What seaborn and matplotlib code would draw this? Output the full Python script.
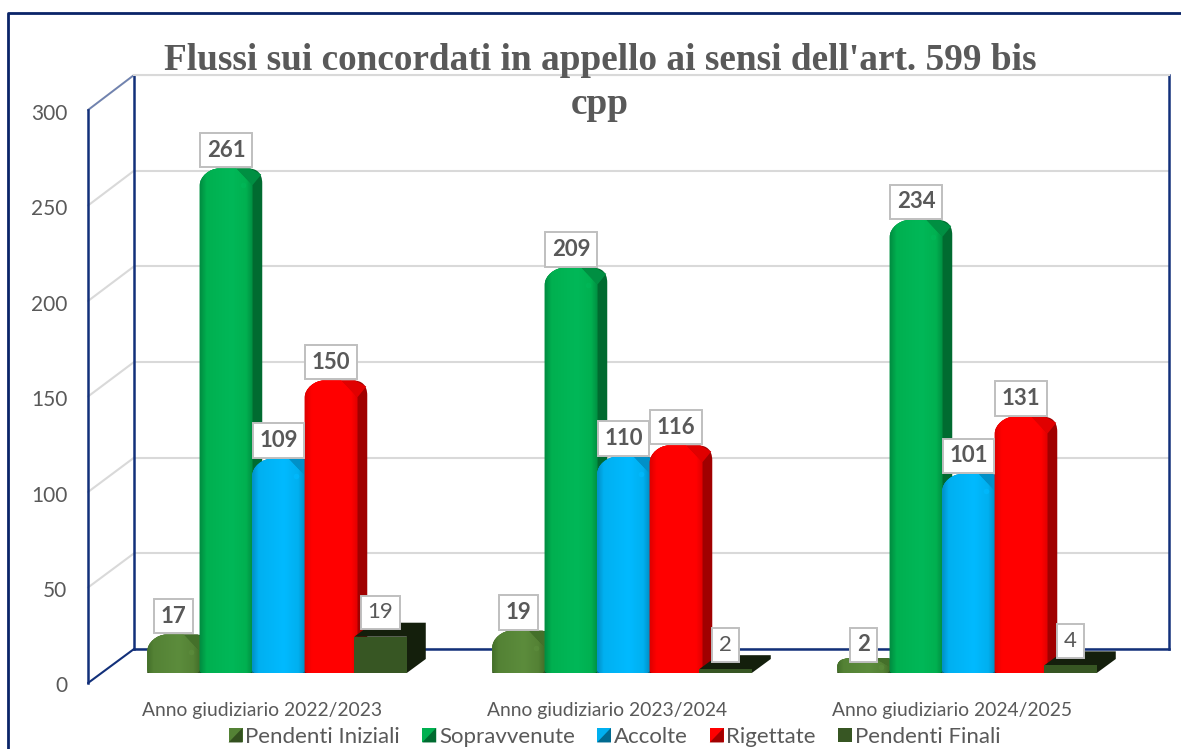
import matplotlib
matplotlib.use('Agg')
import matplotlib.pyplot as plt
from matplotlib.path import Path
from matplotlib.patches import PathPatch, Polygon
from matplotlib.colors import LinearSegmentedColormap
from matplotlib.transforms import ScaledTranslation
import numpy as np
import pandas as pd
import seaborn as sns

# ===== dati =====
anni = ['Anno giudiziario 2022/2023', 'Anno giudiziario 2023/2024', 'Anno giudiziario 2024/2025']
voci = ['Pendenti Iniziali', 'Sopravvenute', 'Accolte', 'Rigettate', 'Pendenti Finali']
pendenti_iniziali = [17, 19, 2]
sopravvenute = [261, 209, 234]
accolte = [109, 110, 101]
rigettate = [150, 116, 131]
pendenti_finali = [19, 2, 4]
tick_y = [0, 50, 100, 150, 200, 250, 300]
titolo = "Flussi sui concordati in appello ai sensi dell'art. 599 bis\ncpp"

colori = ['#548235', '#00b050', '#00b0f0', '#ff0000', '#375623']
colori_lato = ['#33501f', '#006b30', '#006a90', '#a00000', '#141f0c']
colori_bordo = ['#44702a', '#008f42', '#0090c8', '#e00000', '#375623']
colori_luce = ['#5c8c3c', '#00b858', '#00baff', '#ff0000', '#375623']

df = pd.DataFrame({
    'anno': anni * 5,
    'voce': [v for v in voci for _ in anni],
    'valore': pendenti_iniziali + sopravvenute + accolte + rigettate + pendenti_finali,
})

W, H = 1181, 749
GRIGIO = '#595959'
BLU = '#12307a'
sns.set_theme(style='white')
plt.rcParams['font.family'] = ['Lato', 'DejaVu Sans']


def box(l, t, r, b):
    return [l / W, 1 - b / H, (r - l) / W, (b - t) / H]


fig = plt.figure(figsize=(W / 100, H / 100), dpi=100)

# ===== cornice e pareti laterali (coordinate in pixel) =====
bg = fig.add_axes([0, 0, 1, 1], zorder=0)
bg.set_xlim(0, W)
bg.set_ylim(H, 0)
bg.axis('off')
bg.plot([8, 8, W], [H, 13, 13], color='#0a2468', lw=2.0, solid_capstyle='butt')
for v in tick_y:
    colore = BLU if v == 0 else '#d9d9d9'
    bg.plot([88, 134], [683 - v * 1.91, 649 - v * 1.913], color=colore, lw=1.5)
bg.plot([88, 134], [110, 75], color='#6f82b0', lw=1.3)

# parete di fondo
wall = fig.add_axes(box(134, 75, 1169, 649), zorder=1)
wall.patch.set_alpha(0)
wall.set_ylim(0, 300)
wall.set_yticks(tick_y)
wall.set_xticks([])
wall.tick_params(left=False, labelleft=False)
wall.grid(axis='y', color='#d9d9d9', lw=1.5)
for lato in ['left', 'right', 'bottom']:
    wall.spines[lato].set_color(BLU)
    wall.spines[lato].set_linewidth(1.8)
wall.spines['top'].set_color('#d9d9d9')
wall.spines['top'].set_linewidth(1.5)

# asse verticale davanti
ax_y = fig.add_axes(box(88, 110, 100, 683), zorder=2)
ax_y.patch.set_alpha(0)
ax_y.set_ylim(0, 300)
ax_y.set_yticks(tick_y)
ax_y.set_xticks([])
ax_y.tick_params(axis='y', length=0, pad=15, labelsize=15, labelcolor=GRIGIO)
sns.despine(ax=ax_y, top=True, right=True, bottom=True)
ax_y.spines['left'].set_color(BLU)
ax_y.spines['left'].set_linewidth(1.8)
for lab in ax_y.get_yticklabels():
    lab.set_transform(lab.get_transform() + ScaledTranslation(0, -0.015, fig.dpi_scale_trans))

# ===== barre =====
ax = fig.add_axes(box(106, 100, 1141, 673), zorder=3)
ax.patch.set_alpha(0)
sns.barplot(data=df, x='anno', y='valore', hue='voce', hue_order=voci, palette=colori,
            saturation=1, width=0.761, gap=0, linewidth=0, ax=ax)
ax.set_xlabel('')
ax.set_ylabel('')
ax.set_yticks([])
ax.tick_params(axis='x', length=0, pad=21, labelsize=13.9, labelcolor=GRIGIO)
sns.despine(ax=ax, left=True, bottom=True)
for lab in ax.get_xticklabels():
    lab.set_transform(lab.get_transform() + ScaledTranslation(-0.16, 0, fig.dpi_scale_trans))

sx = 1 / 345    # pixel -> dati
sy = 300 / 573

for i, cont in enumerate(ax.containers):
    z = 3 + i
    for bar in cont:
        x0, x1 = bar.get_x(), bar.get_x() + bar.get_width()
        h = bar.get_height()
        if i == 4:
            # scatola piatta, leggermente sovrapposta alla barra rossa
            x0 -= 3 * sx
            x1 -= 3 * sx
            bar.set_x(x0)
            ddx, ddy = 19 * sx, 14 * sy
            ax.add_patch(Polygon([(x0, h), (x0 + ddx, h + ddy), (x1 + ddx, h + ddy), (x1 + ddx, ddy),
                                  (x1, 0), (x1, h)], closed=True, fc=colori_lato[i], ec='none', zorder=z))
            bar.set_zorder(z + 0.1)
            continue
        top = max(h + 6 * sy, 15 * sy)
        sp = max(h - 11 * sy, 6 * sy)
        xr = x1 + 10 * sx
        # sagoma con il lato scuro
        verts = [(x0, 0), (x0, sp),
                 (x0, sp + 9 * sy), (x0 + 10 * sx, top), (x0 + 19 * sx, top),
                 (x1 - 4 * sx, top),
                 (x1 + 4 * sx, top), (xr, top - 4 * sy), (xr, sp + 2 * sy),
                 (xr, 10 * sy), (x1, 0), (x0, 0)]
        codes = [Path.MOVETO, Path.LINETO,
                 Path.CURVE4, Path.CURVE4, Path.CURVE4,
                 Path.LINETO,
                 Path.CURVE4, Path.CURVE4, Path.CURVE4,
                 Path.LINETO, Path.LINETO, Path.CLOSEPOLY]
        ax.add_patch(PathPatch(Path(verts, codes), fc=colori_lato[i], ec='none', zorder=z))
        # spigolo in alto a destra
        ax.add_patch(Polygon([(x1 - 16 * sx, top), (x1 - 2 * sx, top), (xr - 1 * sx, top - 6 * sy), (x1, sp)],
                             closed=True, fc=colori_bordo[i], ec='none', zorder=z + 0.05))
        # faccia frontale con angoli bassi arrotondati
        faccia = [(x0 + 6 * sx, 0), (x0 + 1 * sx, 0), (x0, 1 * sy), (x0, 4 * sy), (x0, sp),
                  (x0, sp + 9 * sy), (x0 + 10 * sx, top), (x0 + 19 * sx, top),
                  (x1 - 16 * sx, top), (x1, sp), (x1, 4 * sy),
                  (x1, 1 * sy), (x1 - 1 * sx, 0), (x1 - 6 * sx, 0), (x0 + 6 * sx, 0)]
        cod_f = [Path.MOVETO, Path.CURVE4, Path.CURVE4, Path.CURVE4, Path.LINETO,
                 Path.CURVE4, Path.CURVE4, Path.CURVE4,
                 Path.LINETO, Path.LINETO, Path.LINETO,
                 Path.CURVE4, Path.CURVE4, Path.CURVE4, Path.CLOSEPOLY]
        sagoma_f = PathPatch(Path(faccia, cod_f), fc=colori[i], ec='none', zorder=z + 0.1)
        ax.add_patch(sagoma_f)
        cmap = LinearSegmentedColormap.from_list('f', [(0, colori_bordo[i]), (0.12, colori[i]),
                                                       (0.6, colori_luce[i]), (0.88, colori[i]),
                                                       (1, colori_bordo[i])])
        grad = np.linspace(0, 1, 60).reshape(1, -1)
        im = ax.imshow(grad, extent=(x0, x1, 0, top), aspect='auto', cmap=cmap, vmin=0, vmax=1,
                       interpolation='bilinear', zorder=z + 0.2)
        im.set_clip_path(sagoma_f)
        # piccolo riflesso sullo spigolo
        ax.plot([x1 - 9 * sx], [sp], marker='o', ms=4, mew=0, color=colori_luce[i], alpha=0.7, zorder=z + 0.3)
        bar.set_visible(False)

ax.set_xlim(-0.5, 2.5)
ax.set_ylim(0, 300)

# etichette dei valori
for i, cont in enumerate(ax.containers):
    etichette = ax.bar_label(cont, padding=17.5, fontsize=16, color=GRIGIO, zorder=20,
                             fontweight='bold' if i < 4 else 'normal',
                             bbox=dict(boxstyle='square,pad=0.3', fc='white', ec='#bfbfbf', lw=1.4))
    for t in etichette:
        t.set_va('center')
        t.set_clip_on(False)

sns.move_legend(ax, 'center', bbox_to_anchor=(614.5 / W, 1 - 737 / H), bbox_transform=fig.transFigure,
                ncol=5, frameon=False, title=None, fontsize=16, handlelength=0.63, handleheight=0.63,
                handletextpad=0.12, columnspacing=1.0, labelcolor=GRIGIO, borderpad=0, borderaxespad=0)

# triangolo scuro sui quadratini della legenda
fig.canvas.draw()
leg = ax.get_legend()
for i, handle in enumerate(leg.legend_handles[:4]):
    e = handle.get_window_extent()
    fig.add_artist(Polygon([(e.x0, e.y0), (e.x1, e.y1), (e.x1, e.y0)], closed=True, fc=colori_lato[i], ec='none',
                           transform=None, zorder=6))

# ===== titolo =====
fig.text(600 / W, 1 - 43 / H, titolo, ha='center', va='top', family='Liberation Serif', weight='bold',
         fontsize=26.8, color=GRIGIO, linespacing=1.32, zorder=30)

plt.savefig('out.png', dpi=100)
